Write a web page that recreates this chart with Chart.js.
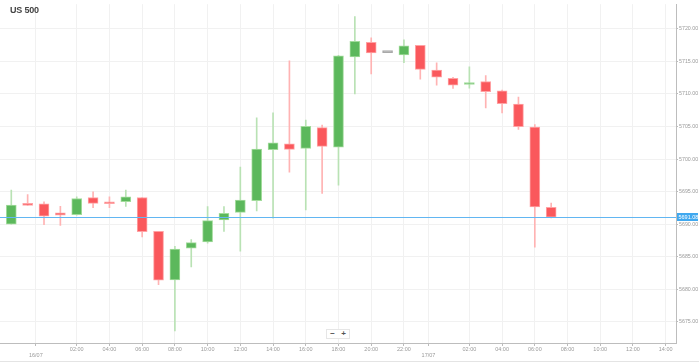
<!DOCTYPE html>
<html>
<head>
<meta charset="utf-8">
<script src="https://cdn.jsdelivr.net/npm/chart.js@4/dist/chart.umd.min.js"></script>
<style>
    html, body { margin: 0; padding: 0; background: #fff; }
    #wrap { position: relative; width: 699px; height: 363px; overflow: hidden; }
    #title { position: absolute; left: 10px; top: 5px; font: bold 9px Arial, 'Liberation Sans', sans-serif; color: #444; letter-spacing: -0.2px; }
    #zoom { position: absolute; left: 326px; top: 329px; width: 22px; height: 8px; border: 1px solid #e6e6e6; background: #fff;
            font: bold 8px Arial, sans-serif; color: #555; display: flex; justify-content: space-around; align-items: center; line-height: 8px; }
    #bottomLine { position: absolute; left: 0; top: 361px; width: 699px; height: 1px; background: #e4e4e4; }
</style>
</head>
<body>
<div id="wrap">
    <canvas id="priceChart" width="699" height="363"></canvas>
    <div id="title">US 500</div>
    <div id="zoom"><span>&minus;</span><span>+</span></div>
    <div id="bottomLine"></div>
</div>
<script>
// Hourly candles, hour offset from 16/07 00:00
const hours = [-2, -1, 0, 1, 2, 3, 4, 5, 6, 7, 8, 9, 10, 11, 12, 13, 14, 15, 16, 17,
    18, 19, 20, 21, 22, 23, 24, 25, 26, 27, 28, 29, 30, 31];
const openPrices = [5690.02, 5693.00, 5693.15, 5691.74, 5691.48, 5694.11, 5693.30, 5693.46, 5694.11, 5688.91,
    5681.47, 5686.33, 5687.28, 5690.68, 5691.83, 5693.61, 5701.45, 5702.36, 5701.65, 5704.83,
    5701.84, 5715.71, 5717.92, 5716.36, 5716.01, 5717.47, 5713.68, 5712.42, 5711.46, 5711.92,
    5710.49, 5708.47, 5704.94, 5692.59];
const highPrices = [5695.23, 5694.56, 5693.46, 5692.74, 5694.22, 5694.97, 5694.22, 5695.23, 5694.11, 5688.91,
    5686.63, 5687.65, 5692.70, 5692.70, 5698.77, 5706.35, 5707.11, 5715.10, 5706.00, 5705.24,
    5715.95, 5721.87, 5718.63, 5716.36, 5718.33, 5717.47, 5714.80, 5712.57, 5714.19, 5712.83,
    5710.60, 5709.53, 5705.29, 5693.26];
const lowPrices = [5690.00, 5692.90, 5689.92, 5689.82, 5691.40, 5692.55, 5692.55, 5692.74, 5688.04, 5680.72,
    5673.63, 5683.45, 5687.10, 5688.91, 5685.87, 5692.05, 5690.92, 5698.01, 5692.20, 5694.72,
    5695.99, 5710.03, 5713.07, 5716.36, 5714.80, 5712.26, 5711.35, 5710.85, 5710.90, 5707.87,
    5707.11, 5704.57, 5686.48, 5690.98];
const closePrices = [5692.96, 5692.90, 5691.23, 5691.38, 5693.96, 5693.20, 5693.15, 5694.22, 5688.86, 5681.43,
    5686.18, 5687.19, 5690.57, 5691.68, 5693.71, 5701.54, 5702.51, 5701.50, 5705.03, 5701.95,
    5715.86, 5718.07, 5716.31, 5716.36, 5717.38, 5713.78, 5712.57, 5711.35, 5711.76, 5710.34,
    5708.52, 5704.98, 5692.65, 5691.08];

const lastPrice = 5691.08;

// Axis ticks
const yTicks = [5675, 5680, 5685, 5690, 5695, 5700, 5705, 5710, 5715, 5720];
const xTickHours = [-0.5, 2, 4, 6, 8, 10, 12, 14, 16, 18, 20, 22, 23.5, 26, 28, 30, 32, 34, 36, 38];
const xTickLabels = ['16/07', '02:00', '04:00', '06:00', '08:00', '10:00', '12:00', '14:00', '16:00', '18:00',
    '20:00', '22:00', '17/07', '02:00', '04:00', '06:00', '08:00', '10:00', '12:00', '14:00'];

const GREEN = '#5cb85c';
const RED = '#fa585c';
const GREY = '#a9a9a9';

function candleColor(i, up, down, flat) {
    if (closePrices[i] > openPrices[i]) return up;
    if (closePrices[i] < openPrices[i]) return down;
    return flat;
}

// Draw the last price line and its label on the right axis
const lastPricePlugin = {
    id: 'lastPrice',
    afterDatasetsDraw(chart) {
        const ctx = chart.ctx;
        const area = chart.chartArea;
        const y = Math.round(chart.scales.y.getPixelForValue(lastPrice));
        ctx.save();
        ctx.fillStyle = '#62b6f2';
        ctx.fillRect(area.left, y, area.right - area.left, 1);
        ctx.fillStyle = '#3fa8ef';
        ctx.fillRect(area.right + 1, y - 4, 21, 8);
        ctx.fillStyle = '#fff';
        ctx.font = '5.5px Arial, sans-serif';
        ctx.textBaseline = 'middle';
        ctx.fillText(lastPrice.toFixed(2), area.right + 2.5, y + 0.5);
        ctx.restore();
    }
};

let priceChart;

document.addEventListener('DOMContentLoaded', function() {
    initializeChart();
});

function initializeChart() {
    const ctx = document.getElementById('priceChart').getContext('2d');
    priceChart = new Chart(ctx, {
        type: 'bar',
        data: {
            datasets: [{
                label: 'Body',
                order: 1,
                grouped: false,
                barThickness: 10,
                minBarLength: 2,
                borderWidth: 1,
                borderSkipped: false,
                data: hours.map((h, i) => ({ x: h, y: [openPrices[i], closePrices[i]] })),
                backgroundColor: c => candleColor(c.dataIndex, GREEN, RED, GREY),
                borderColor: c => candleColor(c.dataIndex, '#a3dc9c', '#ffa3a5', GREY)
            }, {
                label: 'Wick',
                order: 2,
                grouped: false,
                barThickness: 1,
                borderWidth: 0,
                data: hours.map((h, i) => ({ x: h, y: [lowPrices[i], highPrices[i]] })),
                backgroundColor: c => candleColor(c.dataIndex, '#b9e2b4', '#ffb3b3', GREY)
            }]
        },
        options: {
            responsive: false,
            animation: false,
            layout: { padding: 0 },
            plugins: {
                legend: { display: false },
                tooltip: { enabled: false }
            },
            scales: {
                x: {
                    type: 'linear',
                    offset: false,
                    min: -2.69,
                    max: 38.63,
                    afterBuildTicks: axis => { axis.ticks = xTickHours.map(v => ({ value: v })); },
                    afterFit: axis => { axis.height = 20; },
                    grid: { color: '#f1f1f1', offset: false, tickLength: 3, tickColor: '#bbb' },
                    border: { color: '#bdbdbd' },
                    ticks: {
                        autoSkip: false,
                        maxRotation: 0,
                        padding: 0,
                        color: '#9a9a9a',
                        font: { size: 5.5, family: 'Arial, sans-serif' },
                        callback: function(value) {
                            const i = xTickHours.indexOf(value);
                            const label = xTickLabels[i];
                            return label.indexOf('/') > 0 ? ['', label] : label;
                        }
                    }
                },
                y: {
                    position: 'right',
                    min: 5671.77,
                    max: 5723.79,
                    afterBuildTicks: axis => { axis.ticks = yTicks.map(v => ({ value: v })); },
                    afterFit: axis => { axis.width = 23; },
                    grid: { color: '#f1f1f1', tickLength: 2, tickColor: '#bbb' },
                    border: { color: '#bdbdbd' },
                    ticks: {
                        padding: 1,
                        color: '#9a9a9a',
                        font: { size: 5.3, family: 'Arial, sans-serif' },
                        callback: value => value.toFixed(2)
                    }
                }
            }
        },
        plugins: [lastPricePlugin]
    });
}
</script>
</body>
</html>
